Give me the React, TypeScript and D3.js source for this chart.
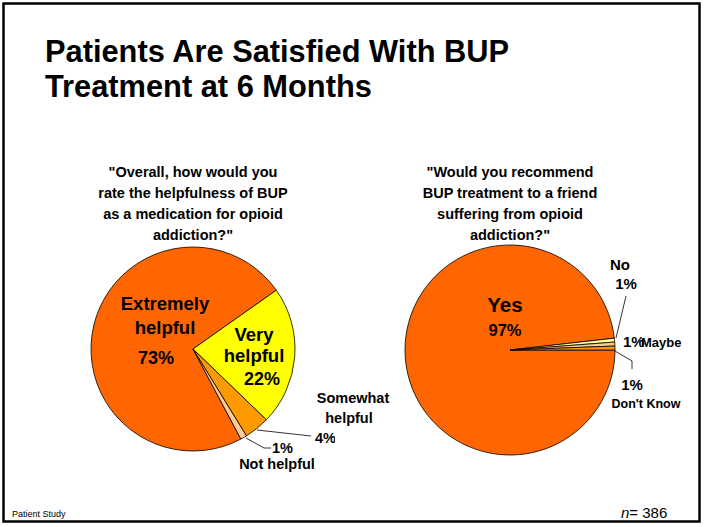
import React from "react";
import * as d3 from "d3";

const helpCategories = ["Extremely helpful", "Very helpful", "Somewhat helpful", "Not helpful"];
const helpValues = [73, 22, 4, 1];
const helpShares = [73, 22, 4, 1];
const helpColors = ["#FF6600", "#FFFF00", "#FF9900", "#FFCC99"];

const recCategories = ["Yes", "No", "Maybe", "Don't Know"];
const recValues = [97, 1, 1, 1];
const recShares = [98.2, 0.6, 0.6, 0.6];
const recColors = ["#FF6600", "#FFFF99", "#FFCC99", "#FF9900"];

const titleLines = ["Patients Are Satisfied With BUP", "Treatment at 6 Months"];
const q1Lines = ['"Overall, how would you', "rate the helpfulness of BUP", "as a medication for opioid", 'addiction?"'];
const q2Lines = ['"Would you recommend', "BUP treatment to a friend", "suffering from opioid", 'addiction?"'];

const FONT = "Liberation Sans, Arial, sans-serif";
const deg = Math.PI / 180;

function Pie({ cx, cy, r, shares, colors, start }: any) {
  const pie = d3.pie<number>().sort(null).startAngle(start * deg).endAngle(start * deg + 2 * Math.PI);
  const arc = d3.arc<d3.PieArcDatum<number>>().innerRadius(0).outerRadius(r);
  const arcs = pie(shares);
  return (
    <g transform={`translate(${cx},${cy})`}>
      {arcs.map((a, i) => (
        <path key={i} d={arc(a) || ""} fill={colors[i]} stroke="#000" strokeWidth={0.8} strokeLinejoin="round" />
      ))}
    </g>
  );
}

export default function App() {
  const W = 704, H = 527;
  const lc = { x: 193, y: 349, r: 102 };
  const rc = { x: 510, y: 350, r: 105 };
  const pct = (v: number) => `${v}%`;
  return (
    <svg width={W} height={H} style={{ position: "absolute", left: 0, top: 0, fontFamily: FONT }}>
      <defs>
        <clipPath id="clip4">
          <rect x={0} y={0} width={335} height={H} />
        </clipPath>
      </defs>
      <rect x={0} y={0} width={W} height={H} fill="#fff" />
      <rect x={3.5} y={3.5} width={696} height={518} fill="none" stroke="#000" strokeWidth={2.5} />
      {titleLines.map((t, i) => (
        <text key={i} x={45} y={62 + i * 35} fontSize={30.8} fontWeight="bold" fill="#000">{t}</text>
      ))}
      {q1Lines.map((t, i) => (
        <text key={i} x={193} y={177 + i * 21} fontSize={14.5} fontWeight="bold" textAnchor="middle">{t}</text>
      ))}
      {q2Lines.map((t, i) => (
        <text key={i} x={510} y={177 + i * 21} fontSize={14.5} fontWeight="bold" textAnchor="middle">{t}</text>
      ))}

      <Pie cx={lc.x} cy={lc.y} r={lc.r} shares={helpShares} colors={helpColors} start={152} />
      <Pie cx={rc.x} cy={rc.y} r={rc.r} shares={recShares} colors={recColors} start={90} />

      {/* left pie labels */}
      <g fontWeight="bold" fill="#000">
        <text x={165} y={310} fontSize={18.5} textAnchor="middle">Extremely</text>
        <text x={165} y={334} fontSize={18.5} textAnchor="middle">helpful</text>
        <text x={156} y={364} fontSize={18} textAnchor="middle">{pct(helpValues[0])}</text>
        <text x={254} y={341} fontSize={18.5} textAnchor="middle">Very</text>
        <text x={254} y={362} fontSize={18.5} textAnchor="middle">helpful</text>
        <text x={262} y={385} fontSize={18} textAnchor="middle">{pct(helpValues[1])}</text>
        <text x={353} y={403} fontSize={14.5} textAnchor="middle">Somewhat</text>
        <text x={349} y={423} fontSize={14.5} textAnchor="middle">helpful</text>
        <text x={315} y={443} fontSize={14.5} clipPath="url(#clip4)">{pct(helpValues[2])}</text>
        <text x={272} y={453} fontSize={14.5}>{pct(helpValues[3])}</text>
        <text x={277} y={469} fontSize={14.5} textAnchor="middle">{helpCategories[3]}</text>
      </g>
      <polyline points="257,430 311,436" fill="none" stroke="#000" strokeWidth={0.8} />
      <polyline points="246,438 264,448 271,448" fill="none" stroke="#000" strokeWidth={0.8} />

      {/* right pie labels */}
      <g fontWeight="bold" fill="#000">
        <text x={505} y={312} fontSize={20.5} textAnchor="middle">{recCategories[0]}</text>
        <text x={505} y={336} fontSize={16.5} textAnchor="middle">{pct(recValues[0])}</text>
        <text x={620} y={270} fontSize={15} textAnchor="middle">{recCategories[1]}</text>
        <text x={626} y={289} fontSize={15} textAnchor="middle">{pct(recValues[1])}</text>
        <text x={623} y={347} fontSize={15}>{pct(recValues[2])}</text>
        <text x={641} y={347} fontSize={13}>{recCategories[2]}</text>
        <text x={632} y={390} fontSize={15} textAnchor="middle">{pct(recValues[3])}</text>
        <text x={646} y={408} fontSize={12.5} textAnchor="middle">{recCategories[3]}</text>
      </g>
      <polyline points="626,296 616,338" fill="none" stroke="#000" strokeWidth={0.8} />
      <polyline points="615,351 632,361 632,369" fill="none" stroke="#000" strokeWidth={0.8} />

      <text x={12} y={517} fontSize={9} fontFamily="Liberation Sans Narrow, Arial Narrow, sans-serif">Patient Study</text>
      <text x={621} y={518} fontSize={15}>
        <tspan fontStyle="italic">n</tspan>= 386
      </text>
    </svg>
  );
}
